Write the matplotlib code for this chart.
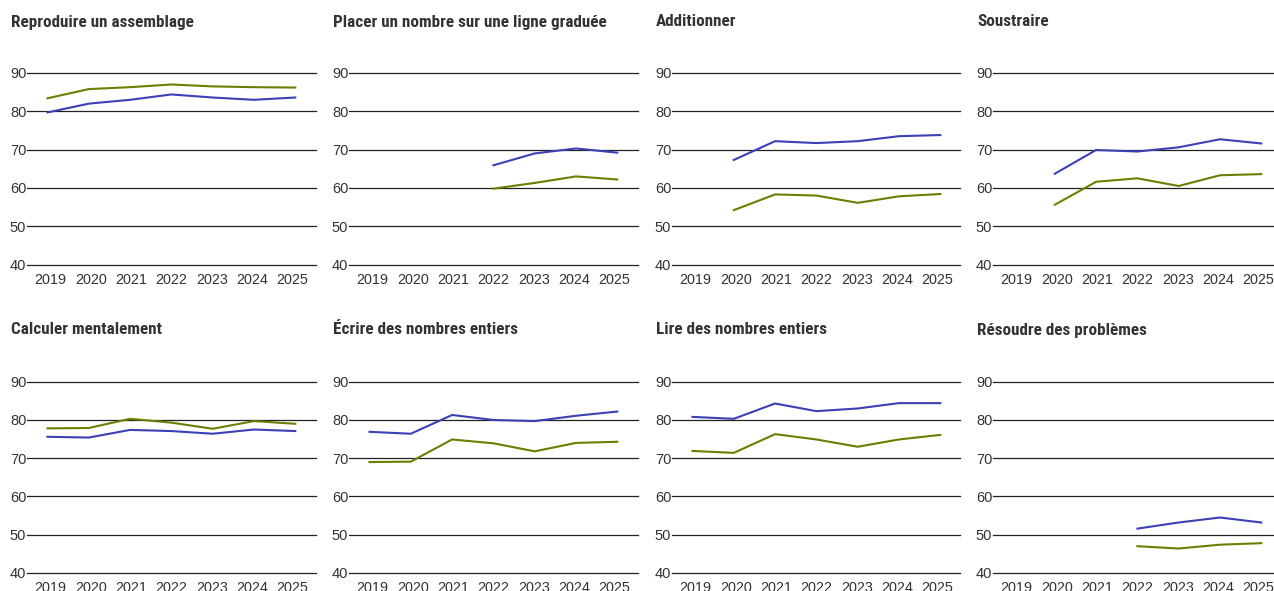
import matplotlib
matplotlib.use("Agg")
import matplotlib.pyplot as plt
from matplotlib import font_manager
import numpy as np

years = [2019, 2020, 2021, 2022, 2023, 2024, 2025]
titles = ["Reproduire un assemblage", "Placer un nombre sur une ligne graduée",
          "Additionner", "Soustraire", "Calculer mentalement",
          "Écrire des nombres entiers", "Lire des nombres entiers",
          "Résoudre des problèmes"]

N = np.nan
blue_reproduire = [79.7, 82.0, 83.0, 84.4, 83.6, 83.0, 83.6]
green_reproduire = [83.4, 85.8, 86.3, 87.0, 86.5, 86.3, 86.2]
blue_placer = [N, N, N, 65.9, 69.0, 70.3, 69.2]
green_placer = [N, N, N, 59.8, 61.3, 63.0, 62.2]
blue_additionner = [N, 67.3, 72.2, 71.7, 72.2, 73.5, 73.8]
green_additionner = [N, 54.2, 58.3, 58.0, 56.1, 57.8, 58.4]
blue_soustraire = [N, 63.7, 69.9, 69.5, 70.6, 72.7, 71.6]
green_soustraire = [N, 55.6, 61.6, 62.5, 60.5, 63.3, 63.6]
blue_calculer = [75.6, 75.4, 77.4, 77.1, 76.4, 77.5, 77.1]
green_calculer = [77.8, 77.9, 80.3, 79.3, 77.7, 79.7, 79.0]
blue_ecrire = [76.9, 76.4, 81.3, 80.0, 79.7, 81.1, 82.2]
green_ecrire = [69.0, 69.1, 74.9, 73.9, 71.8, 74.0, 74.3]
blue_lire = [80.8, 80.3, 84.3, 82.3, 83.0, 84.4, 84.4]
green_lire = [71.9, 71.4, 76.3, 74.9, 73.0, 74.9, 76.1]
blue_resoudre = [N, N, N, 51.6, 53.2, 54.5, 53.2]
green_resoudre = [N, N, N, 47.0, 46.4, 47.4, 47.8]

blues = [blue_reproduire, blue_placer, blue_additionner, blue_soustraire,
         blue_calculer, blue_ecrire, blue_lire, blue_resoudre]
greens = [green_reproduire, green_placer, green_additionner, green_soustraire,
          green_calculer, green_ecrire, green_lire, green_resoudre]
yticks = [40, 50, 60, 70, 80, 90]

BLUE = "#3b40b5"
GREEN = "#6a7f00"
TXT = "#333333"

W, H = 1274, 591
fig = plt.figure(figsize=(W / 100, H / 100), dpi=100)

lefts = [27, 349, 672, 993]
widths = [289, 289, 288, 281]
rows = [(73, 264.5), (381.7, 573)]
title_y = [22, 330]
step_px = 41.3

names = {f.name for f in font_manager.fontManager.ttflist}
tick_font = ["Liberation Sans", "DejaVu Sans"]
if "Roboto Condensed" in names:
    title_font = ["Roboto Condensed", "DejaVu Sans"]
    title_size = 12.3
else:
    title_font = ["Roboto", "DejaVu Sans"]
    title_size = 10.8

label_pos = [2022 + (y - 2022) * 0.977 for y in years]

for i in range(8):
    r, c = divmod(i, 4)
    top, bot = rows[r]
    ax = fig.add_axes([lefts[c] / W, 1 - bot / H, widths[c] / W, (bot - top) / H])
    x0 = 2019 - 20.5 / step_px
    ax.set_xlim(x0, x0 + widths[c] / step_px)
    ax.set_ylim(40, 90)
    for s in ax.spines.values():
        s.set_visible(False)
    ax.set_yticks(yticks)
    ax.set_xticks(label_pos)
    ax.set_xticklabels([str(y) for y in years], family=tick_font, fontsize=10.4, color=TXT)
    ax.set_yticklabels([str(y) for y in yticks], family=tick_font, fontsize=10.5, color=TXT)
    ax.tick_params(axis="both", length=0)
    ax.tick_params(axis="y", pad=0.5)
    ax.tick_params(axis="x", pad=6)
    for yv in yticks:
        ax.axhline(yv, color="#222222", lw=0.9, zorder=1, clip_on=False)
    ax.plot(years, blues[i], color=BLUE, lw=1.5, zorder=3, clip_on=False)
    ax.plot(years, greens[i], color=GREEN, lw=1.5, zorder=3, clip_on=False)
    fig.text((lefts[c] - 16) / W, 1 - title_y[r] / H, titles[i], family=title_font,
             fontweight="bold", fontsize=title_size, color=TXT, ha="left", va="center")

fig.savefig("out.png", dpi=100, facecolor="white")
